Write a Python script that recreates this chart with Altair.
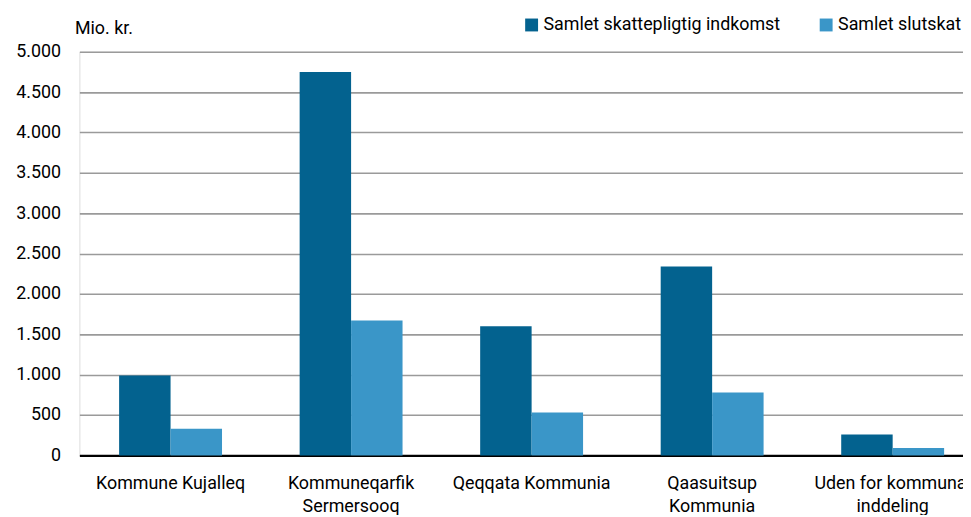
import altair as alt
import pandas as pd

categories = ["Kommune Kujalleq", "Kommuneqarfik\nSermersooq", "Qeqqata Kommunia",
              "Qaasuitsup\nKommunia", "Uden for kommunal\ninddeling"]
series = ["Samlet skattepligtig indkomst", "Samlet slutskat"]
indkomst = [990, 4750, 1600, 2340, 260]
slutskat = [330, 1670, 530, 780, 90]
colors = ["#03628f", "#3a96c8"]

rows = []
for c, a, b in zip(categories, indkomst, slutskat):
    rows.append({"kommune": c, "serie": series[0], "value": a})
    rows.append({"kommune": c, "serie": series[1], "value": b})
df = pd.DataFrame(rows)

FONT = "Roboto"
FS = 18

chart = alt.Chart(df).mark_bar().encode(
    x=alt.X("kommune:N", sort=categories,
            scale=alt.Scale(paddingInner=0.43, paddingOuter=0.22, range=[0, 912]),
            axis=alt.Axis(title=None, labelAngle=0, ticks=False, domain=True,
                          domainColor="#000000", domainWidth=2.5,
                          labelExpr="split(datum.label, '\\n')",
                          labelFont=FONT, labelFontSize=FS, labelColor="#000000",
                          labelPadding=19, labelBaseline="top", labelLineHeight=24,
                          labelLimit=300, labelOverlap=False)),
    xOffset=alt.XOffset("serie:N", sort=series, scale=alt.Scale(paddingInner=0, paddingOuter=0)),
    y=alt.Y("value:Q", scale=alt.Scale(domain=[0, 5000], nice=False),
            axis=alt.Axis(values=[0, 500, 1000, 1500, 2000, 2500, 3000, 3500, 4000, 4500, 5000],
                          labelExpr="replace(format(datum.value, ','), ',', '.')",
                          title="Mio. kr.", titleAngle=0, titleAlign="left",
                          titleBaseline="middle", titleX=-5, titleY=-23,
                          titleFont=FONT, titleFontSize=FS, titleFontWeight="normal",
                          titleColor="#000000",
                          labelFont=FONT, labelFontSize=FS, labelColor="#000000",
                          labelPadding=19, ticks=False, domain=False,
                          grid=True, gridColor="#9a9a9a", gridWidth=1.6)),
    color=alt.Color("serie:N", sort=series,
                    scale=alt.Scale(domain=series, range=colors),
                    legend=alt.Legend(title=None, orient="none", direction="horizontal",
                                      legendX=447, legendY=-36,
                                      symbolType="square", symbolSize=169,
                                      symbolStrokeWidth=0, symbolOffset=0,
                                      labelFont=FONT, labelFontSize=FS, labelColor="#000000",
                                      labelOffset=3, columnPadding=37, labelLimit=400)),
).properties(
    width=891, height=407,
    autosize=alt.AutoSizeParams(type="none"),
    padding={"left": 72, "top": 42, "right": 0, "bottom": 58},
).configure_view(stroke=None).configure(background="#ffffff")

chart.save("out.html", embed_options={"renderer": "svg", "actions": False})
